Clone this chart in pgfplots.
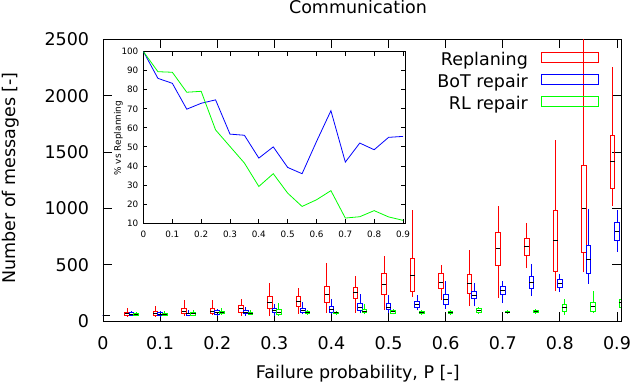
\documentclass[border=0pt]{standalone}
\usepackage{fontspec}
\setmainfont{DejaVu Sans}
\usepackage{pgfplots}
\usepackage{pgfplotstable}
\pgfplotsset{compat=1.18}

% columns: failure probability, lower whisker, lower quartile, median, upper quartile, upper whisker
\pgfplotstableread{
x    lw    lq    med   uq    uw
0.00 50    50    50    50    50
0.05 40    47    65    79    118
0.10 45    47    65    83    130
0.15 47    65    85    109   183
0.20 53    65    88    115   189
0.25 47    79    109   138   192
0.30 47    109   163   219   337
0.35 65    132   174   219   292
0.40 74    165   234   308   515
0.45 74    198   257   296   396
0.50 100   234   323   420   574
0.55 212   263   403   554   983
0.60 189   287   343   420   494
0.65 132   243   332   412   628
0.70 207   492   645   785   1019
0.75 470   580   663   731   868
0.80 266   438   714   980   1605
0.85 432   604   998   1381  2700
0.90 1021  1176  1416  1647  2252
}\redT
\pgfplotstableread{
x    lw    lq    med   uq    uw
0.00 50    50    50    50    50
0.05 47    47    59    74    85
0.10 41    47    59    73    85
0.15 47    53    65    70    94
0.20 47    56    74    91    103
0.25 47    65    79    94    121
0.30 47    74    94    109   148
0.35 65    76    94    109   168
0.40 59    76    103   130   192
0.45 74    94    118   156   236
0.50 70    100   124   154   228
0.55 94    118   145   172   228
0.60 109   145   192   234   352
0.65 130   198   230   260   340
0.70 159   234   272   305   352
0.75 221   287   340   394   503
0.80 257   301   337   367   414
0.85 332   426   545   669   998
0.90 613   714   797   877   983
}\blueT
\pgfplotstableread{
x    lw    lq    med   uq    uw
0.00 50    50    50    50    50
0.05 47    47    59    65    79
0.10 47    47    59    65    85
0.15 47    53    68    79    100
0.20 56    65    76    85    112
0.25 56    56    68    79    94
0.30 50    54    80    101   156
0.35 59    65    74    83    94
0.40 59    65    74    79    85
0.45 59    74    88    103   148
0.50 59    70    83    94    109
0.55 53    65    74    85    94
0.60 53    65    74    85    100
0.65 65    74    91    112   124
0.70 70    74    79    88    94
0.75 68    74    85    94    109
0.80 56    88    118   145   198
0.85 74    88    127   163   263
0.90 79    118   165   189   219
}\greenT

% \candles{table}{colour}{x offset}: whiskers, box and median drawn as error bars
\newcommand{\candles}[3]{%
\addplot[forget plot, draw=none, mark=none,
  error bars/.cd, y dir=plus, y explicit, error mark=none,
  error bar style={draw=#2, line width=0.9pt, solid}]
  table[x expr=\thisrow{x}+#3, y=lw, y error plus expr=\thisrow{lq}-\thisrow{lw}] {#1};
\addplot[forget plot, draw=none, mark=none,
  error bars/.cd, y dir=plus, y explicit, error mark=none,
  error bar style={draw=#2, line width=0.9pt, solid}]
  table[x expr=\thisrow{x}+#3, y=uq, y error plus expr=\thisrow{uw}-\thisrow{uq}] {#1};
\addplot[forget plot, draw=none, mark=none,
  error bars/.cd, y dir=plus, y explicit, error mark=none,
  error bar style={draw=#2, line width=0.9pt, solid, line cap=rect}]
  table[x expr=\thisrow{x}+#3-0.004, y=lq, y error plus expr=\thisrow{uq}-\thisrow{lq}] {#1};
\addplot[forget plot, draw=none, mark=none,
  error bars/.cd, y dir=plus, y explicit, error mark=none,
  error bar style={draw=#2, line width=0.9pt, solid, line cap=rect}]
  table[x expr=\thisrow{x}+#3+0.004, y=lq, y error plus expr=\thisrow{uq}-\thisrow{lq}] {#1};
\addplot[forget plot, draw=none, mark=none,
  error bars/.cd, x dir=both, x fixed=0.004, error mark=none,
  error bar style={draw=#2, line width=0.9pt, solid, line cap=rect}]
  table[x expr=\thisrow{x}+#3, y=lq] {#1};
\addplot[forget plot, draw=none, mark=none,
  error bars/.cd, x dir=both, x fixed=0.004, error mark=none,
  error bar style={draw=#2, line width=0.9pt, solid, line cap=rect}]
  table[x expr=\thisrow{x}+#3, y=uq] {#1};
\addplot[forget plot, draw=none, mark=none,
  error bars/.cd, x dir=both, x fixed=0.004, error mark=none,
  error bar style={draw=black, line width=0.9pt, solid}]
  table[x expr=\thisrow{x}+#3, y=med] {#1};
}

\begin{document}
\begin{tikzpicture}
\path[use as bounding box] (-103pt,-65pt) rectangle (529pt,321pt);
\begin{axis}[
  at={(0pt,0pt)}, anchor=south west,
  scale only axis, width=518pt, height=281.7pt,
  xmin=0, xmax=0.907, ymin=0, ymax=2500,
  clip=true,
  axis line style={line width=0.8pt},
  every tick/.style={black, line width=0.8pt},
  major tick length=9pt, tick align=inside,
  xtick={0,0.1,0.2,0.3,0.4,0.5,0.6,0.7,0.8,0.9},
  xticklabels={0,0.1,0.2,0.3,0.4,0.5,0.6,0.7,0.8,0.9},
  ytick={0,500,1000,1500,2000,2500},
  yticklabels={0,500,1000,1500,2000,2500},
  tick label style={font=\fontsize{17.5}{18}\selectfont},
  xticklabel style={anchor=north, inner sep=0pt, yshift=-15.7pt},
  yticklabel style={anchor=east, inner sep=0pt, xshift=-13.7pt},
  title={Communication},
  title style={font=\fontsize{17.5}{18}\selectfont, at={(axis description cs:0.4923,1)}, anchor=base, inner sep=0pt, yshift=20pt},
  xlabel={Failure probability, P [-]},
  xlabel style={font=\fontsize{17.5}{18}\selectfont, at={(axis description cs:0.4919,0)}, anchor=base, inner sep=0pt, yshift=-57.5pt},
  ylabel={Number of messages [-]},
  ylabel style={font=\fontsize{17.5}{18}\selectfont, at={(axis description cs:-0.1776,0.5076)}, anchor=center, inner sep=0pt},
  legend plot pos=right,
  legend cell align=right,
  legend image code/.code={\draw[#1, line width=0.9pt] (0pt,-1.7pt) rectangle (57pt,8.3pt);},
  legend style={draw=none, fill=none, font=\fontsize{17.5}{18}\selectfont,
    at={(axis description cs:0.9575,0.955)}, anchor=north east,
    inner sep=0pt, row sep=5pt, column sep=13pt,
    nodes={inner sep=0pt, text height=13pt, text depth=3.5pt}},
]
\addlegendimage{draw=red}\addlegendentry{Replaning}
\addlegendimage{draw=blue}\addlegendentry{BoT repair}
\addlegendimage{draw=green}\addlegendentry{RL repair}
\candles{\redT}{red}{-0.008}
\candles{\blueT}{blue}{0}
\candles{\greenT}{green}{0.008}
\end{axis}

\begin{axis}[
  at={(40.5pt,98pt)}, anchor=south west,
  scale only axis, width=261.8pt, height=171.3pt,
  xmin=0, xmax=0.908, ymin=10, ymax=100,
  axis line style={line width=0.8pt},
  every tick/.style={black, line width=0.8pt},
  major tick length=4pt, tick align=inside,
  xtick={0,0.1,0.2,0.3,0.4,0.5,0.6,0.7,0.8,0.9},
  xticklabels={0,0.1,0.2,0.3,0.4,0.5,0.6,0.7,0.8,0.9},
  ytick={10,20,30,40,50,60,70,80,90,100},
  yticklabels={10,20,30,40,50,60,70,80,90,100},
  tick label style={font=\fontsize{8.8}{9}\selectfont},
  xticklabel style={anchor=north, inner sep=0pt, yshift=-7.5pt},
  yticklabel style={anchor=east, inner sep=0pt, xshift=-5pt},
  ylabel={\% vs Replanning},
  ylabel style={font=\fontsize{9}{9}\selectfont, at={(axis description cs:-0.0963,0.496)}, anchor=center, inner sep=0pt},
]
\addplot[blue, line width=0.8pt] coordinates {
(0,100) (0.05,86) (0.1,83.4) (0.15,69.8) (0.2,72.9) (0.25,74.7) (0.3,56.7)
(0.35,56.1) (0.4,44.1) (0.45,50) (0.5,39.2) (0.55,35.9) (0.6,52.8) (0.65,69)
(0.7,42) (0.75,52) (0.8,48.5) (0.85,55) (0.9,55.5)};
\addplot[green, line width=0.8pt] coordinates {
(0,100) (0.05,89.5) (0.1,89.2) (0.15,78.7) (0.2,79.2) (0.25,58.9) (0.3,50.2)
(0.35,41.5) (0.4,29.2) (0.45,35.9) (0.5,25.7) (0.55,18.7) (0.6,22.2) (0.65,27)
(0.7,12.6) (0.75,13.3) (0.8,16.5) (0.85,13.2) (0.9,11.4)};
\end{axis}
\end{tikzpicture}
\end{document}
